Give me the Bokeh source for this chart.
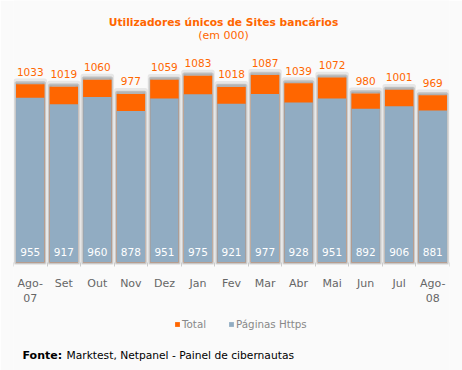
from bokeh.plotting import figure
from bokeh.models import (Range1d, FixedTicker, ColumnDataSource, LabelSet, Label,
                          Legend, LegendItem, LinearAxis)
from bokeh.core.properties import value
from bokeh.embed import file_html
from bokeh.resources import INLINE

# ---- data ----
months = ["Ago-\n07", "Set", "Out", "Nov", "Dez", "Jan", "Fev", "Mar", "Abr",
          "Mai", "Jun", "Jul", "Ago-\n08"]
total = [1033, 1019, 1060, 977, 1059, 1083, 1018, 1087, 1039, 1072, 980, 1001, 969]
https = [955, 917, 960, 878, 951, 975, 921, 977, 928, 951, 892, 906, 881]

ORANGE = "#FF6600"
BLUE = "#91ACC2"
BG = "#FAFAFA"
FONT = "DejaVu Sans"

x = [i + 0.5 for i in range(len(months))]
src = ColumnDataSource(dict(
    x=x, total=total, https=https,
    shadow1=[t + 20 for t in total],
    shadow2=[t + 8 for t in total],
    total_lbl=[str(t) for t in total],
    https_lbl=[str(h) for h in https],
    zero=[0] * len(total),
))

W, H = 462, 370
p = figure(width=W, height=H, x_range=Range1d(0, len(months)), y_range=Range1d(-626, 1519),
           output_backend="svg", toolbar_location=None, y_axis_location=None,
           x_axis_location=None, title=None,
           min_border_left=13, min_border_right=13, min_border_top=0, min_border_bottom=0,
           background_fill_color=BG, border_fill_color=BG, outline_line_color=None)
p.xgrid.visible = False
p.ygrid.visible = False

# soft shadows behind the bars
p.vbar(x="x", top="shadow1", bottom=0, width=0.85, source=src,
       fill_color="#808080", fill_alpha=0.15, line_color="#808080", line_alpha=0.15,
       line_width=5, line_join="round")
p.vbar(x="x", top="shadow2", bottom=0, width=0.85, source=src,
       fill_color="#808080", fill_alpha=0.3, line_color="#808080", line_alpha=0.3,
       line_width=3, line_join="round")

r_total = p.vbar(x="x", top="total", bottom=0, width=0.85, source=src,
                 fill_color=ORANGE, line_color=None)
r_https = p.vbar(x="x", top="https", bottom=0, width=0.85, source=src,
                 fill_color=BLUE, line_color=None)

p.add_layout(LabelSet(x="x", y="total", text="total_lbl", source=src, y_offset=8.5,
                      text_align="center", text_baseline="alphabetic",
                      text_color=ORANGE, text_font_size="10.5px", text_font=value(FONT)))
p.add_layout(LabelSet(x="x", y="zero", text="https_lbl", source=src, y_offset=7,
                      text_align="center", text_baseline="alphabetic",
                      text_color="white", text_font_size="10.5px", text_font=value(FONT)))

# x axis, drawn at y = 0
ax = LinearAxis(fixed_location=0)
ax.ticker = FixedTicker(ticks=x, minor_ticks=list(range(len(months) + 1)))
ax.major_label_overrides = {xi: m for xi, m in zip(x, months)}
ax.axis_line_color = None
ax.major_tick_line_color = None
ax.minor_tick_line_color = "#CCCCCC"
ax.minor_tick_in = 0
ax.minor_tick_out = 4
ax.major_tick_in = 0
ax.major_tick_out = 0
ax.major_label_standoff = 10
ax.major_label_text_font = FONT
ax.major_label_text_font_size = "11px"
ax.major_label_text_color = "#666666"
p.add_layout(ax, "below")

# titles (screen units, relative to the plot frame, y upward)
p.add_layout(Label(x=210, y=H - 22, x_units="screen", y_units="screen",
                   text="Utilizadores únicos de Sites bancários", text_align="center",
                   text_baseline="alphabetic", text_font=FONT, text_font_size="10.7px",
                   text_font_style="bold", text_color=ORANGE))
p.add_layout(Label(x=210, y=H - 34.5, x_units="screen", y_units="screen",
                   text="(em 000)", text_align="center",
                   text_baseline="alphabetic", text_font=FONT, text_font_size="11px",
                   text_color=ORANGE))

# legend
legend = Legend(items=[LegendItem(label="Total", renderers=[r_total]),
                       LegendItem(label="Páginas Https", renderers=[r_https])],
                orientation="horizontal", location=(161, H - 323.5 - 8),
                glyph_width=6, glyph_height=6, label_standoff=2, spacing=22,
                padding=0, margin=0, border_line_color=None, background_fill_alpha=0,
                label_text_font=FONT, label_text_font_size="10.3px",
                label_text_color="#888888", label_height=16)
p.add_layout(legend)

# footer
p.add_layout(Label(x=9, y=H - 355, x_units="screen", y_units="screen", text="Fonte:",
                   text_baseline="alphabetic", text_font=FONT, text_font_size="11px",
                   text_font_style="bold", text_color="black"))
p.add_layout(Label(x=53, y=H - 355, x_units="screen", y_units="screen",
                   text="Marktest, Netpanel - Painel de cibernautas",
                   text_baseline="alphabetic", text_font=FONT, text_font_size="10.7px",
                   text_color="black"))

open("out.html", "w").write(file_html(p, INLINE))
